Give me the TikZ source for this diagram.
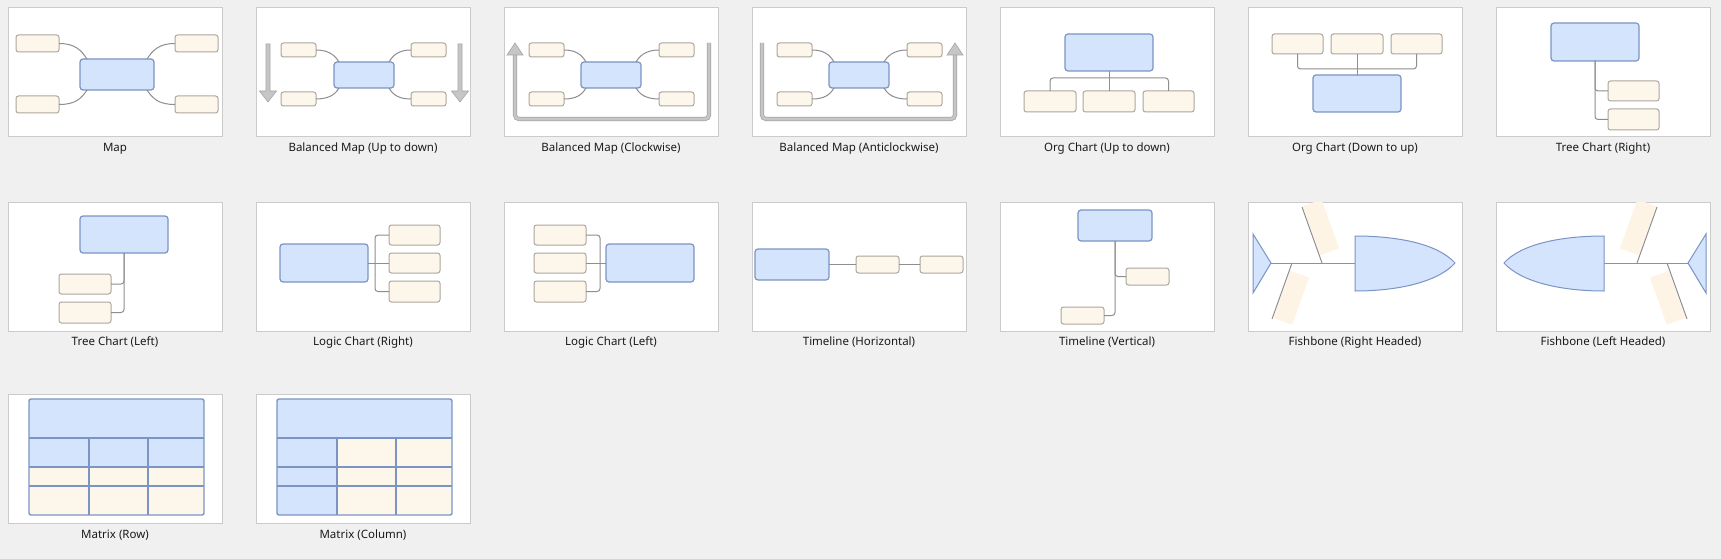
\documentclass[tikz,border=0pt]{standalone}
\usepackage{fontspec}
\setmainfont{Noto Sans}
\usetikzlibrary{calc}
\definecolor{bgc}{HTML}{F0F0F0}
\definecolor{panelbd}{HTML}{CBCBCB}
\definecolor{bluefill}{HTML}{D4E4FC}
\definecolor{bluebd}{HTML}{7B94C4}
\definecolor{creamfill}{HTML}{FDF6EA}
\definecolor{creambd}{HTML}{ACA69E}
\definecolor{conngray}{HTML}{8E8E8E}
\definecolor{arrowfill}{HTML}{C6C6C6}
\definecolor{arrowbd}{HTML}{A6A6A6}
\definecolor{bonecream}{HTML}{FDF4E6}
\definecolor{txt}{HTML}{1A1A1A}
\newcommand\mkbox[6]{\node[#6, minimum width={#4-#2}, minimum height={#5-#3}] (#1) at ({(#2+#4)/2},{(#3+#5)/2}) {};}
\tikzset{
  bluebox/.style={draw=bluebd, fill=bluefill, rounded corners=3, line width=1.2, inner sep=0, outer sep=0},
  creambox/.style={draw=creambd, fill=creamfill, rounded corners=2.5, line width=1, inner sep=0, outer sep=0},
  conn/.style={draw=conngray, line width=1},
  garrow/.style={fill=arrowfill, draw=arrowbd, line width=0.6, line join=miter},
  uline/.style={draw=arrowbd, line width=0.8, double=arrowfill, double distance=2.6},
  panelbox/.style={fill=white, draw=panelbd, line width=1},
  lbl/.style={text=txt, font=\fontsize{11.5}{13}\selectfont, inner sep=0},
  mline/.style={draw=bluebd, line width=1.4},
  bone/.style={draw=conngray, line width=1},
  fishpart/.style={fill=bluefill, draw=bluebd, line width=1},
}
\begin{document}
\begin{tikzpicture}[x=1pt, y=-1pt]
\fill[bgc] (0,0) rectangle (1721,559);
\useasboundingbox (0,0) rectangle (1721,559);
% panels and labels
\foreach \px/\py/\ly/\lab/\nm in {
  8/8/149/Map/lab1,
  256/8/149/Balanced Map (Up to down)/lab2,
  504/8/149/Balanced Map (Clockwise)/lab3,
  752/8/149/Balanced Map (Anticlockwise)/lab4,
  1000/8/149/Org Chart (Up to down)/lab5,
  1248/8/149/Org Chart (Down to up)/lab6,
  1496/8/149/Tree Chart (Right)/lab7,
  8/202/342.5/Tree Chart (Left)/lab8,
  256/202/342.5/Logic Chart (Right)/lab9,
  504/202/342.5/Logic Chart (Left)/lab10,
  752/202/342.5/Timeline (Horizontal)/lab11,
  1000/202/342.5/Timeline (Vertical)/lab12,
  1248/202/342.5/Fishbone (Right Headed)/lab13,
  1496/202/342.5/Fishbone (Left Headed)/lab14,
  8/394/535/Matrix (Row)/lab15,
  256/394/535/Matrix (Column)/lab16}{
  \draw[panelbox] (\px,\py) rectangle ++(214,129);
  \node[lbl] (\nm) at (\px+107,\ly) {\lab};
}
% 1 Map
\begin{scope}[shift={(8,8)}]
\mkbox{m1c}{72}{51}{146}{82}{bluebox}
\mkbox{m1a}{8}{27}{51}{44}{creambox}
\mkbox{m1b}{8}{88}{51}{105}{creambox}
\mkbox{m1d}{167}{27}{210}{44}{creambox}
\mkbox{m1e}{167}{88}{210}{105}{creambox}
\draw[conn] (m1a.east) .. controls +(16,0) and +(-6,-9) .. ($(m1c.north west)+(7,0)$);
\draw[conn] (m1b.east) .. controls +(16,0) and +(-6,9) .. ($(m1c.south west)+(7,0)$);
\draw[conn] (m1d.west) .. controls +(-16,0) and +(6,-9) .. ($(m1c.north east)+(-7,0)$);
\draw[conn] (m1e.west) .. controls +(-16,0) and +(6,9) .. ($(m1c.south east)+(-7,0)$);
\end{scope}
% 2 Balanced map up to down
\begin{scope}[shift={(256,8)}]
\mkbox{m2c}{78}{54}{138}{80}{bluebox}
\mkbox{m2a}{25}{35}{60}{49}{creambox}
\mkbox{m2b}{25}{84}{60}{98}{creambox}
\mkbox{m2d}{155}{35}{190}{49}{creambox}
\mkbox{m2e}{155}{84}{190}{98}{creambox}
\draw[conn] (m2a.east) .. controls +(12,0) and +(-4,-7) .. ($(m2c.north west)+(5,0)$);
\draw[conn] (m2b.east) .. controls +(12,0) and +(-4,7) .. ($(m2c.south west)+(5,0)$);
\draw[conn] (m2d.west) .. controls +(-12,0) and +(4,-7) .. ($(m2c.north east)+(-5,0)$);
\draw[conn] (m2e.west) .. controls +(-12,0) and +(4,7) .. ($(m2c.south east)+(-5,0)$);
\draw[garrow] (10,36) -- (14,36) -- (14,83) -- (20.5,83) -- (12,94) -- (3.5,83) -- (10,83) -- cycle;
\draw[garrow] (202,36) -- (206,36) -- (206,83) -- (212.5,83) -- (204,94) -- (195.5,83) -- (202,83) -- cycle;
\end{scope}
% 3 Balanced map clockwise
\begin{scope}[shift={(504,8)}]
\mkbox{m3c}{77}{54}{137}{80}{bluebox}
\mkbox{m3a}{25}{35}{60}{49}{creambox}
\mkbox{m3b}{25}{84}{60}{98}{creambox}
\mkbox{m3d}{155}{35}{190}{49}{creambox}
\mkbox{m3e}{155}{84}{190}{98}{creambox}
\draw[conn] (m3a.east) .. controls +(12,0) and +(-4,-7) .. ($(m3c.north west)+(5,0)$);
\draw[conn] (m3b.east) .. controls +(12,0) and +(-4,7) .. ($(m3c.south west)+(5,0)$);
\draw[conn] (m3d.west) .. controls +(-12,0) and +(4,-7) .. ($(m3c.north east)+(-5,0)$);
\draw[conn] (m3e.west) .. controls +(-12,0) and +(4,7) .. ($(m3c.south east)+(-5,0)$);
\draw[uline, rounded corners=4] (11,46.5) |- (205,111) -- (205,35);
\draw[garrow] (11,35) -- (19,47) -- (3,47) -- cycle;
\end{scope}
% 4 Balanced map anticlockwise
\begin{scope}[shift={(752,8)}]
\mkbox{m4c}{77}{54}{137}{80}{bluebox}
\mkbox{m4a}{25}{35}{60}{49}{creambox}
\mkbox{m4b}{25}{84}{60}{98}{creambox}
\mkbox{m4d}{155}{35}{190}{49}{creambox}
\mkbox{m4e}{155}{84}{190}{98}{creambox}
\draw[conn] (m4a.east) .. controls +(12,0) and +(-4,-7) .. ($(m4c.north west)+(5,0)$);
\draw[conn] (m4b.east) .. controls +(12,0) and +(-4,7) .. ($(m4c.south west)+(5,0)$);
\draw[conn] (m4d.west) .. controls +(-12,0) and +(4,-7) .. ($(m4c.north east)+(-5,0)$);
\draw[conn] (m4e.west) .. controls +(-12,0) and +(4,7) .. ($(m4c.south east)+(-5,0)$);
\draw[uline, rounded corners=4] (10,35) |- (203,111) -- (203,46.5);
\draw[garrow] (203,35) -- (211,47) -- (195,47) -- cycle;
\end{scope}
% 5 Org chart up to down
\begin{scope}[shift={(1000,8)}]
\mkbox{o1t}{65}{26}{153}{63}{bluebox}
\mkbox{o1a}{24}{83}{76}{104}{creambox}
\mkbox{o1b}{83}{83}{135}{104}{creambox}
\mkbox{o1c}{143}{83}{194}{104}{creambox}
\draw[conn, rounded corners=3] (o1a.north) |- ($(o1t.south)+(0,7)$) -| (o1c.north);
\draw[conn] (o1t.south) -- (o1b.north);
\end{scope}
% 6 Org chart down to up
\begin{scope}[shift={(1248,8)}]
\mkbox{o2a}{24}{26}{75}{46}{creambox}
\mkbox{o2b}{83}{26}{135}{46}{creambox}
\mkbox{o2c}{143}{26}{194}{46}{creambox}
\mkbox{o2t}{65}{67}{153}{104}{bluebox}
\draw[conn, rounded corners=3] (o2a.south) |- ($(o2t.north)+(0,-6)$) -| (o2c.south);
\draw[conn] (o2b.south) -- (o2t.north);
\end{scope}
% 7 Tree chart right
\begin{scope}[shift={(1496,8)}]
\mkbox{t1t}{55}{15}{143}{53}{bluebox}
\mkbox{t1a}{112}{73}{163}{93}{creambox}
\mkbox{t1b}{112}{101}{163}{122}{creambox}
\draw[conn, rounded corners=3] (t1t.south) |- (t1a.west);
\draw[conn, rounded corners=3] (t1t.south) |- (t1b.west);
\end{scope}
% 8 Tree chart left
\begin{scope}[shift={(8,202)}]
\mkbox{t2t}{72}{14}{160}{51}{bluebox}
\mkbox{t2a}{51}{72}{103}{92}{creambox}
\mkbox{t2b}{51}{100}{103}{121}{creambox}
\draw[conn, rounded corners=3] (t2t.south) |- (t2a.east);
\draw[conn, rounded corners=3] (t2t.south) |- (t2b.east);
\end{scope}
% 9 Logic chart right
\begin{scope}[shift={(256,202)}]
\mkbox{l1c}{24}{42}{112}{80}{bluebox}
\mkbox{l1a}{133}{23}{184}{43}{creambox}
\mkbox{l1b}{133}{51}{184}{71}{creambox}
\mkbox{l1d}{133}{79}{184}{100}{creambox}
\draw[conn, rounded corners=3] (l1a.west) -| ($(l1c.east)+(7,0)$) |- (l1d.west);
\draw[conn] (l1c.east) -- (l1b.west);
\end{scope}
% 10 Logic chart left
\begin{scope}[shift={(504,202)}]
\mkbox{l2a}{30}{23}{82}{43}{creambox}
\mkbox{l2b}{30}{51}{82}{71}{creambox}
\mkbox{l2d}{30}{79}{82}{100}{creambox}
\mkbox{l2c}{102}{42}{190}{80}{bluebox}
\draw[conn, rounded corners=3] (l2a.east) -| ($(l2c.west)+(-6,0)$) |- (l2d.east);
\draw[conn] (l2b.east) -- (l2c.west);
\end{scope}
% 11 Timeline horizontal
\begin{scope}[shift={(752,202)}]
\mkbox{h1c}{3}{47}{77}{78}{bluebox}
\mkbox{h1a}{104}{54}{147}{71}{creambox}
\mkbox{h1b}{168}{54}{211}{71}{creambox}
\draw[conn] (h1c.east) -- (h1a.west);
\draw[conn] (h1a.east) -- (h1b.west);
\end{scope}
% 12 Timeline vertical
\begin{scope}[shift={(1000,202)}]
\mkbox{v1c}{78}{8}{152}{39}{bluebox}
\mkbox{v1a}{126}{66}{169}{83}{creambox}
\mkbox{v1b}{61}{105}{104}{122}{creambox}
\draw[conn, rounded corners=3] (v1c.south) |- (v1a.west);
\draw[conn, rounded corners=3] (v1c.south) |- (v1b.east);
\end{scope}
% 13 Fishbone right headed, 14 mirrored
\foreach \sx/\sc in {1248/1, 1711/-1}{
\begin{scope}[shift={(\sx,202)}, xscale=\sc]
  \begin{scope}
  \clip (0.5,0.5) rectangle (213.5,128.5);
  \fill[bonecream] (72.25,53.13) -- (91.07,46.41) -- (73.6,-2.52) -- (54.78,4.2) -- cycle;
  \fill[bonecream] (42.25,68.87) -- (61.07,75.59) -- (44.27,122.64) -- (25.45,115.92) -- cycle;
  \end{scope}
  \draw[bone] (74,61) -- (54,5);
  \draw[bone] (44,61) -- (24,117);
  \draw[draw=bluebd, line width=1] (23,61) -- (107,61);
  \draw[fishpart] (5,32) -- (23,61) -- (5,91) -- cycle;
  \draw[fishpart] (107,34) .. controls (150,34) and (190,42) .. (207,61) .. controls (190,80) and (150,89) .. (107,89) -- cycle;
\end{scope}
}
% 15 Matrix row
\begin{scope}[shift={(8,394)}]
\fill[bluefill] (21,5) rectangle (196,73);
\fill[creamfill] (21,73) rectangle (196,121);
\draw[mline] (21,44) -- (196,44) (21,73) -- (196,73) (21,92) -- (196,92) (81,44) -- (81,121) (140,44) -- (140,121);
\draw[mline, rounded corners=2] (21,5) rectangle (196,121);
\end{scope}
% 16 Matrix column
\begin{scope}[shift={(256,394)}]
\fill[bluefill] (21,5) rectangle (196,44);
\fill[bluefill] (21,44) rectangle (81,121);
\fill[creamfill] (81,44) rectangle (196,121);
\draw[mline] (21,44) -- (196,44) (21,73) -- (196,73) (21,92) -- (196,92) (81,44) -- (81,121) (140,44) -- (140,121);
\draw[mline, rounded corners=2] (21,5) rectangle (196,121);
\end{scope}
\end{tikzpicture}
\end{document}
